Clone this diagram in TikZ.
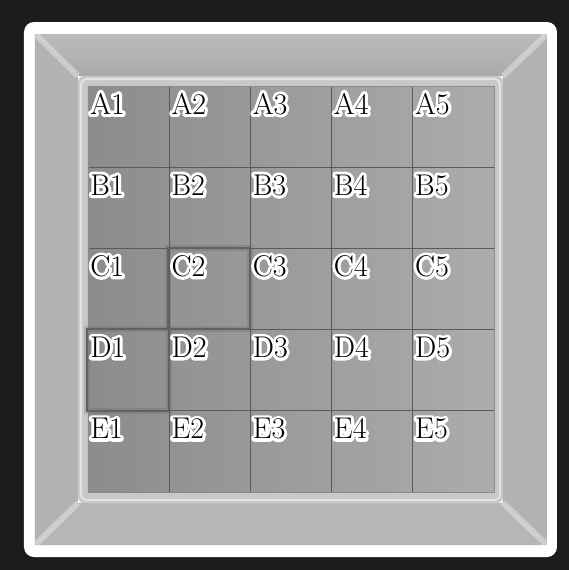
\documentclass[tikz,border=0pt]{standalone}
\usetikzlibrary{calc}
\definecolor{FrameBlack}{RGB}{28,28,28}
\definecolor{WallTop}{RGB}{170,170,170}
\definecolor{WallSide}{RGB}{178,178,178}
\definecolor{WallLow}{RGB}{182,182,182}
\definecolor{RimGray}{RGB}{200,200,200}
\definecolor{FloorDark}{RGB}{140,140,140}
\definecolor{FloorLight}{RGB}{172,172,172}
\definecolor{GridGray}{RGB}{90,90,90}
\newcommand{\halotext}[1]{\rlap{\special{pdf:code q 1 Tr 3 w 1 1 1 RG 1 j}#1\special{pdf:code Q}}#1}

\begin{document}
\begin{tikzpicture}[x=0.5pt, y=-0.5pt, font=\fontsize{15}{15}\selectfont,
  cell label/.style={anchor=base west, inner sep=0pt},
  grid line/.style={GridGray, line width=0.45pt},
  marked/.style={draw=black!62, line width=1.1pt}]
\useasboundingbox (0,0) rectangle (569,570);
\fill[FrameBlack] (0,0) rectangle (569,570);
\fill[white, rounded corners=5pt] (24,22) rectangle (557,557);
% walls of the box
\shade[top color=WallTop!80!white, bottom color=WallTop] (35,34) -- (547,34) -- (503,76) -- (78,76) -- cycle;
\fill[WallSide] (35,34) -- (78,76) -- (78,503) -- (35,545) -- cycle;
\fill[WallLow] (78,503) -- (503,503) -- (547,545) -- (35,545) -- cycle;
\fill[WallSide] (547,34) -- (547,545) -- (503,503) -- (503,76) -- cycle;
\draw[white, opacity=0.35, line width=3pt] (36,35) -- (78,76) (546,35) -- (503,76)
  (36,544) -- (78,503) (546,544) -- (503,503);
% floor with rim
\fill[RimGray, rounded corners=3pt] (78,76) rectangle (503,503);
\draw[white, opacity=0.5, line width=1pt, rounded corners=3pt] (81,79) rectangle (500,500);
\shade[left color=FloorDark, right color=FloorLight] (88,86) rectangle (494,492);
\foreach \k in {1,...,4} {
  \draw[grid line] ({88+81.2*\k}, 86) -- ({88+81.2*\k}, 492);
  \draw[grid line] (88, {86+81.2*\k}) -- (494, {86+81.2*\k});
}
\draw[grid line, GridGray!70] (88,86) rectangle (494,492);
% marked cells
\draw[marked, opacity=0.25, line width=3pt] (168,248) rectangle (250,329);
\draw[marked] (168,248) rectangle (250,329);
\draw[marked, opacity=0.25, line width=3pt] (87,329) rectangle (169,411);
\draw[marked] (87,329) rectangle (169,411);
% labels
\foreach \r [count=\i from 0] in {A,B,C,D,E}
  \foreach \c in {1,...,5}
    \node[cell label] (\r\c) at ({90+81.2*(\c-1)}, {114+81.2*\i}) {\halotext{\r\c}};
\end{tikzpicture}
\end{document}
